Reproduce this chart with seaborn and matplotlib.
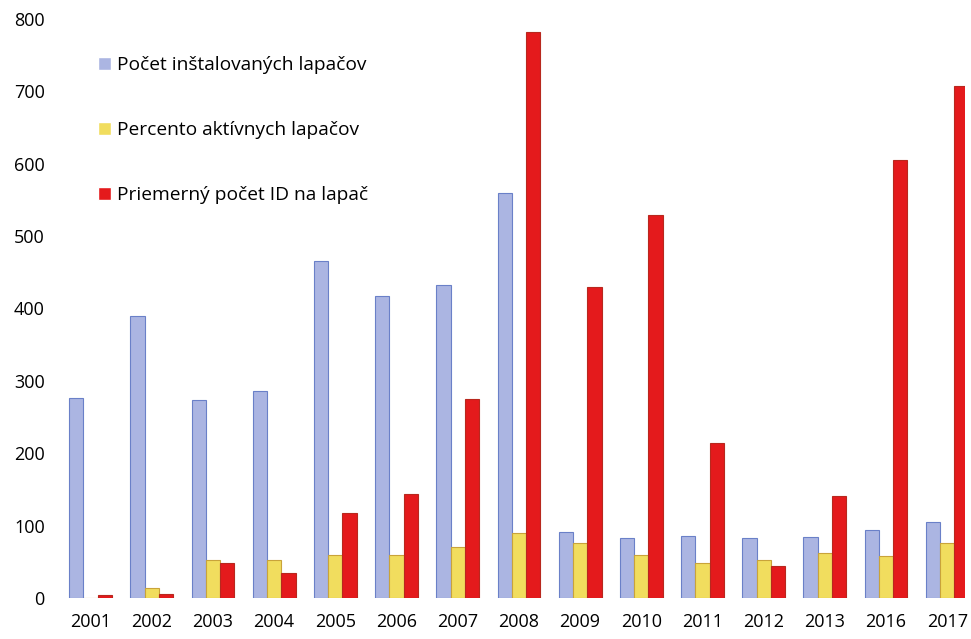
import pandas as pd
import matplotlib.pyplot as plt
import seaborn as sns

roky = ['2001', '2002', '2003', '2004', '2005', '2006', '2007', '2008',
        '2009', '2010', '2011', '2012', '2013', '2016', '2017']
pocet_lapacov = [276, 390, 273, 286, 465, 417, 432, 559, 91, 83, 86, 83, 84, 94, 105]
percento_aktivnych = [0, 14, 52, 52, 59, 59, 70, 90, 76, 59, 48, 52, 62, 58, 76]
priemer_id = [4, 5, 48, 34, 117, 144, 275, 782, 430, 529, 214, 44, 141, 605, 707]

serie = ['Počet inštalovaných lapačov', 'Percento aktívnych lapačov', 'Priemerný počet ID na lapač']
farby = ['#abb5e2', '#f1dd5e', '#e41a1c']
okraje = ['#6a80c8', '#c9a33a', '#b8281e']

df = pd.DataFrame({'rok': roky,
                   serie[0]: pocet_lapacov,
                   serie[1]: percento_aktivnych,
                   serie[2]: priemer_id})
df = df.melt(id_vars='rok', var_name='seria', value_name='hodnota')

sns.set_style('white')
plt.rcParams['font.family'] = ['Open Sans', 'DejaVu Sans']
plt.rcParams['text.color'] = 'black'
plt.rcParams['xtick.color'] = 'black'
plt.rcParams['ytick.color'] = 'black'

fig = plt.figure(figsize=(9.71, 6.39), dpi=100)
ax = fig.add_axes([60 / 971, 41 / 639, 905 / 971, 598 / 639])

sns.barplot(data=df, x='rok', y='hodnota', hue='seria', hue_order=serie,
            palette=farby, saturation=1, width=0.7, ax=ax)

# okraje stlpcov podla serie
for cont, edge in zip(ax.containers, okraje):
    for bar in cont:
        bar.set_edgecolor(edge)
        bar.set_linewidth(0.8)

ax.set_xlim(-0.5, 14.29)
ax.set_ylim(0, 826)
ax.set_yticks(range(0, 801, 100))
ax.set_xlabel('')
ax.set_ylabel('')
ax.tick_params(axis='y', labelsize=13, pad=11, length=0)
ax.tick_params(axis='x', labelsize=13, pad=11, length=0)
sns.despine(ax=ax, left=True, bottom=True)

handles, labels = ax.get_legend_handles_labels()
ax.legend(handles, labels, loc='upper left', bbox_to_anchor=(0.023, 0.935),
          frameon=False, fontsize=13.8, handlelength=0.7, handleheight=0.7,
          handletextpad=0.3, labelspacing=2.45)

fig.savefig('out.png', dpi=100)
